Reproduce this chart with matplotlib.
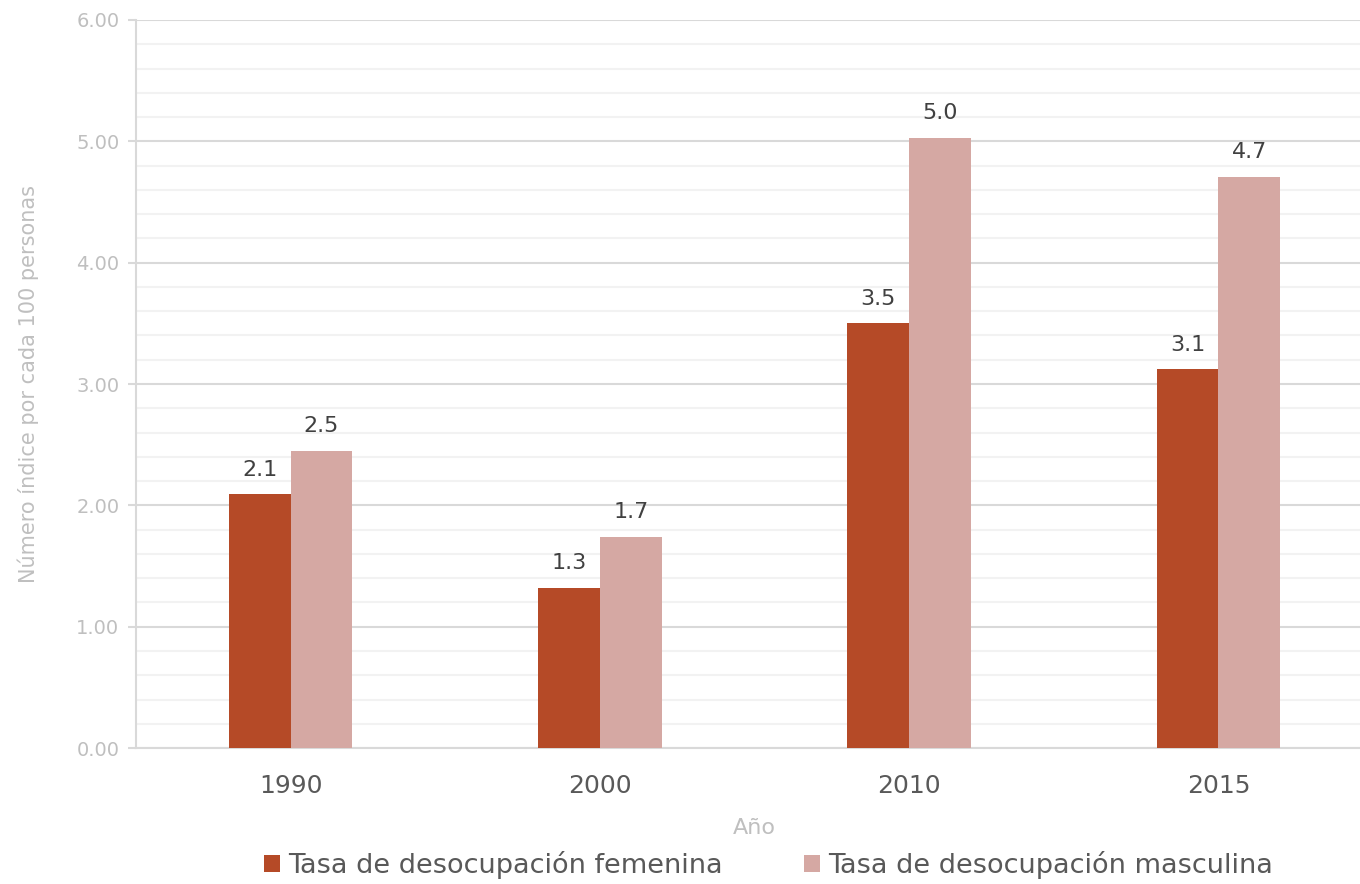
import matplotlib.pyplot as plt
import numpy as np
from matplotlib.ticker import MultipleLocator

# Datos
anios = ['1990', '2000', '2010', '2015']
tasa_femenina = [2.09, 1.32, 3.50, 3.12]
tasa_masculina = [2.45, 1.74, 5.03, 4.71]

col_fem = '#B54A27'
col_masc = '#D5A8A3'

plt.rcParams['font.family'] = ['DejaVu Sans']

fig = plt.figure(figsize=(13.6, 8.84), dpi=100)
ax = fig.add_axes([0.1, 0.1538, 0.9096, 0.8236])

x = np.arange(len(anios))
w = 0.2
b1 = ax.bar(x - w / 2, tasa_femenina, w, color=col_fem, label='Tasa de desocupación femenina', zorder=3)
b2 = ax.bar(x + w / 2, tasa_masculina, w, color=col_masc, label='Tasa de desocupación masculina', zorder=3)

for bars, vals in ((b1, tasa_femenina), (b2, tasa_masculina)):
    for r, v in zip(bars, vals):
        ax.text(r.get_x() + r.get_width() / 2, v + 0.12, f'{v:.1f}', ha='center', va='bottom',
                fontsize=16, color='#404040')

ax.set_xlim(-0.5, 3.5)
ax.set_ylim(0, 6)
ax.yaxis.set_major_locator(MultipleLocator(1))
ax.yaxis.set_minor_locator(MultipleLocator(0.2))
ax.yaxis.set_major_formatter(lambda v, p: f'{v:.2f}')
ax.grid(which='major', axis='y', color='#D9D9D9', linewidth=1.5, zorder=0)
ax.grid(which='minor', axis='y', color='#F2F2F2', linewidth=1.5, zorder=0)

ax.set_xticks(x)
ax.set_xticklabels(anios)
ax.tick_params(axis='x', length=0, labelsize=18, labelcolor='#595959', pad=19)
ax.tick_params(axis='y', which='major', length=6, width=1.5, color='#D9D9D9',
               labelsize=14, labelcolor='#BFBFBF', pad=6)
ax.tick_params(axis='y', which='minor', length=0)

for s in ['top', 'right']:
    ax.spines[s].set_visible(False)
for s in ['left', 'bottom']:
    ax.spines[s].set_color('#D9D9D9')
    ax.spines[s].set_linewidth(1.5)

ax.set_xlabel('Año', fontsize=16, color='#BFBFBF', labelpad=14)
ax.set_ylabel('Número índice por cada 100 personas', fontsize=15, color='#BFBFBF', labelpad=27)

fig.legend(handles=[b1, b2], loc='lower center', bbox_to_anchor=(0.565, -0.022), ncol=2,
           frameon=False, fontsize=19.5, labelcolor='#595959', handlelength=0.6,
           handleheight=0.6, handletextpad=0.3, columnspacing=3.0)

fig.savefig('out.png', dpi=100)
